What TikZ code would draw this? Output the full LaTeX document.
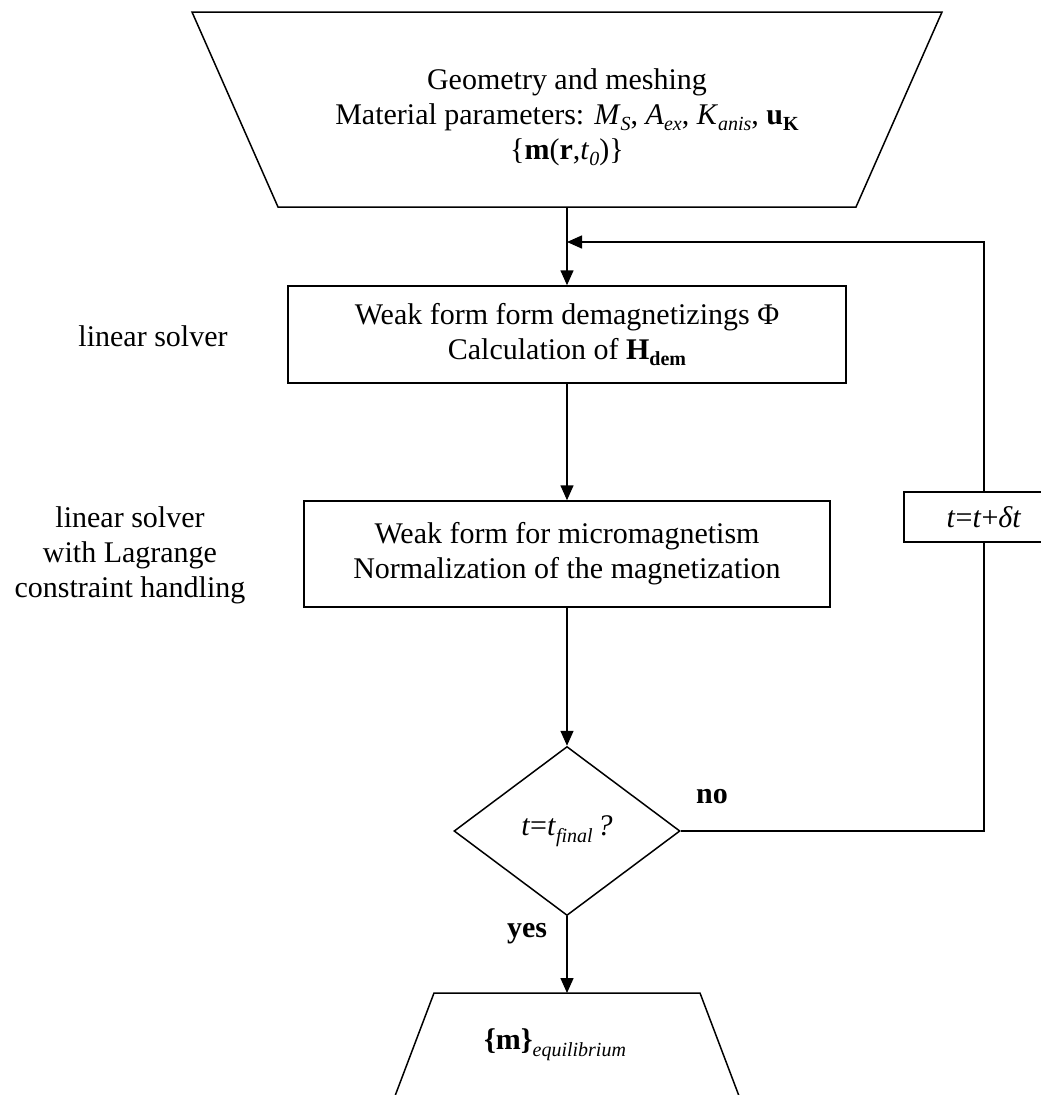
\documentclass[tikz,border=0pt]{standalone}
\usepackage{fontspec}
\setmainfont{Liberation Serif}
\usetikzlibrary{arrows.meta,shapes.geometric}
\newcommand\lowsub[1]{\raisebox{-0.22em}{\fontsize{20}{20}\selectfont #1}}
\begin{document}
\begin{tikzpicture}[x=1pt,y=-1pt,
  line width=1.5pt,
  arr/.style={-{Triangle[length=15pt,width=13pt]}},
  txt/.style={font=\fontsize{30}{35}\selectfont, align=center, inner sep=0pt},
  boldtxt/.style={txt, font=\fontsize{30}{35}\selectfont\bfseries},
  procbox/.style={draw, rectangle, line width=1.5pt, inner sep=0pt, font=\fontsize{30}{35}\selectfont, align=center}]
\path[use as bounding box] (0,0) rectangle (1041,1095);
\begin{scope}
\clip (0,0) rectangle (1041,1095);
% top trapezoid
\draw (192,12) -- (942,12) -- (856,207) -- (278,207) -- cycle;
\node[txt] (inp) at (567,117) {Geometry and meshing\\
  Material parameters: \textit{M}\lowsub{\textit{S}}, \textit{A}\lowsub{\textit{ex}}, \textit{K}\lowsub{\textit{anis}}, \textbf{u}\lowsub{\textbf{K}}\\
  \{\textbf{m}(\textbf{r},\textit{t}\lowsub{\textit{0}})\}};
\coordinate (inpb) at (567,207);
% boxes
\node[procbox, minimum width=558pt, minimum height=97pt] (b1) at (567,334.5)
  {Weak form form demagnetizings Φ\\ Calculation of \textbf{H}\lowsub{\textbf{dem}}};
\node[procbox, minimum width=526pt, minimum height=106pt] (b2) at (567,554)
  {Weak form for micromagnetism\\ Normalization of the magnetization};
% decision
\node[draw, diamond, minimum width=226pt, minimum height=169pt, inner sep=0pt, line width=1.5pt,
      font=\fontsize{30}{35}\selectfont] (dec) at (567,831)
  {\textit{t}=\textit{t}\lowsub{\textit{final}}\,\textit{?}};
% output trapezoid
\draw (434,993) -- (700,993) -- (750,1125) -- (384,1125) -- cycle;
\node[txt] (outp) at (555,1045) {\textbf{\{m\}}\lowsub{\textit{equilibrium}}};
\coordinate (outt) at (567,993);
% time step box
\node[procbox, minimum width=160pt, minimum height=50pt, fill=white] (dt) at (984,517)
  {\textit{t}=\textit{t}+\textit{δt}};
\end{scope}
% side labels
\node[txt] (l1) at (153,336) {linear solver};
\node[txt] (l2) at (130,555) {linear solver\\ with Lagrange\\ constraint handling};
% connectors
\coordinate (join) at (567,242);
\draw[arr] (inpb) -- (b1.north);
\draw[arr] (b1.south) -- (b2.north);
\draw[arr] (b2.south) -- (dec.north);
\draw[arr] (dec.south) -- (outt);
\draw (dec.east) -| (dt.south);
\draw[arr] (dt.north) |- (join);
\node[boldtxt] (no) at (712,797) {no};
\node[boldtxt] (yes) at (527,934) {yes};
\end{tikzpicture}
\end{document}
